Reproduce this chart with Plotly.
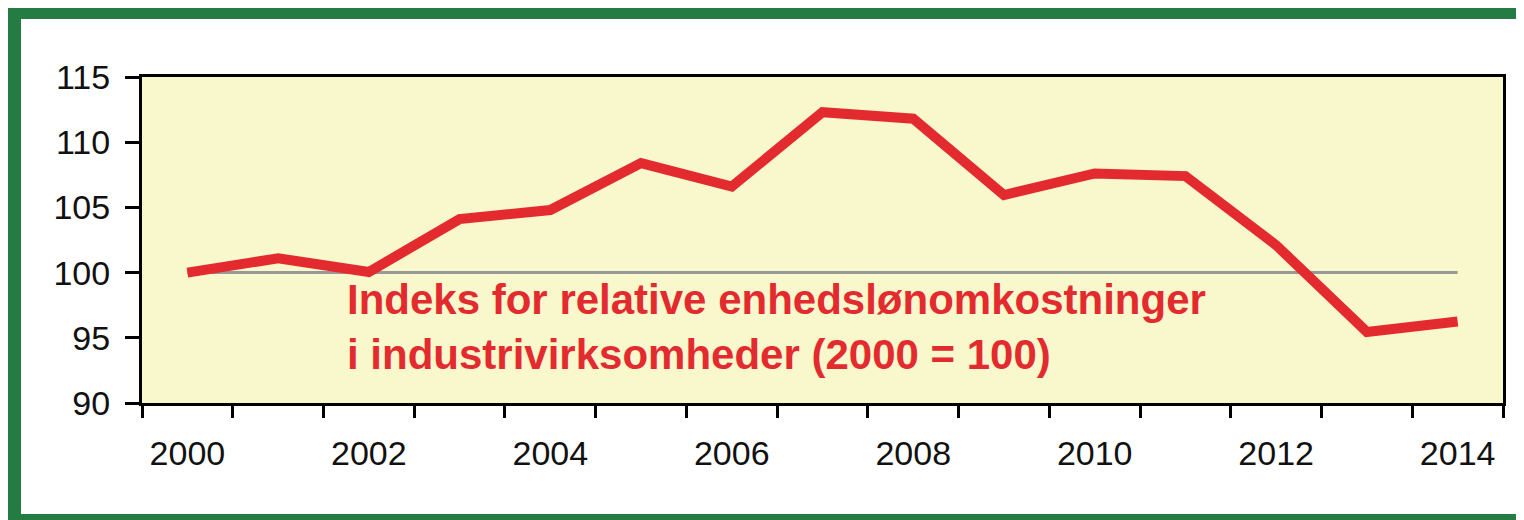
import plotly.graph_objects as go

years = list(range(2000, 2015))
index_values = [100.0, 101.1, 100.05, 104.1, 104.8, 108.4, 106.6, 112.3, 111.8,
                105.95, 107.6, 107.4, 102.1, 95.45, 96.25]
baseline = [100.0] * 15
x_labels = [2000, 2002, 2004, 2006, 2008, 2010, 2012, 2014]
y_ticks = [90, 95, 100, 105, 110, 115]
label_lines = ["Indeks for relative enhedslønomkostninger",
               "i industrivirksomheder (2000 = 100)"]

FONT = "Arial, Liberation Sans, sans-serif"
RED = "#E32B2F"
GREEN = "rgb(36,124,66)"

# page has an 8px body margin; work in figure coordinates (page - 8)
OFF = 8
W, H = 1524 - OFF, 520 - OFF
L, R, T, B = 142 - OFF, 1503 - OFF, 77 - OFF, 403 - OFF
pw, ph = R - L, B - T

def px(x):
    return (x - OFF - L) / pw

def py(y):
    return (B - (y - OFF)) / ph

fig = go.Figure()
fig.add_trace(go.Scatter(x=years, y=baseline, mode="lines",
                         line=dict(color="#999999", width=3), hoverinfo="skip",
                         showlegend=False))
fig.add_trace(go.Scatter(x=years, y=index_values, mode="lines",
                         line=dict(color=RED, width=10), showlegend=False))
# invisible trace carrying the secondary x axis (category boundary ticks)
fig.add_trace(go.Scatter(x=[years[0]], y=[index_values[0]], xaxis="x2",
                         mode="markers", marker=dict(opacity=0), showlegend=False,
                         hoverinfo="skip"))

fig.update_layout(
    width=W, height=H,
    margin=dict(l=L, r=W - R, t=T, b=H - B),
    paper_bgcolor="white",
    plot_bgcolor="#F8F8CC",
    font=dict(family=FONT, color="#111111"),
    xaxis=dict(range=[1999.5, 2014.5], tickmode="array", tickvals=x_labels,
               ticktext=[str(v) for v in x_labels], ticks="", showgrid=False,
               zeroline=False, showline=True, linecolor="black", linewidth=3,
               mirror=True, tickfont=dict(size=34, color="#111111"),
               ticklabelstandoff=18),
    xaxis2=dict(range=[1999.5, 2014.5], overlaying="x", anchor="y", side="bottom",
                tickmode="array", tickvals=[y - 0.5 for y in years] + [2014.5],
                ticks="outside", ticklen=14, tickwidth=3, tickcolor="black",
                showticklabels=False, showgrid=False, zeroline=False, showline=False),
    yaxis=dict(range=[90, 115], tickmode="array", tickvals=y_ticks,
               ticks="outside", ticklen=14, tickwidth=3, tickcolor="black",
               showgrid=False, zeroline=False, showline=True, linecolor="black",
               linewidth=3, mirror=True, tickfont=dict(size=34, color="#111111"),
               ticklabelstandoff=8),
    annotations=[dict(
        x=px(345), y=py(327), xref="paper", yref="paper",
        xanchor="left", yanchor="middle", align="left", showarrow=False,
        text="<br>".join("<b>" + s + "</b>" for s in label_lines),
        font=dict(family=FONT, size=42, color=RED),
    )],
    shapes=[
        dict(type="rect", xref="paper", yref="paper", x0=px(8), x1=px(21),
             y0=py(540), y1=py(7), fillcolor=GREEN, line=dict(width=0), layer="above"),
        dict(type="rect", xref="paper", yref="paper", x0=px(8), x1=px(1540),
             y0=py(19), y1=py(7), fillcolor=GREEN, line=dict(width=0), layer="above"),
        dict(type="rect", xref="paper", yref="paper", x0=px(8), x1=px(1540),
             y0=py(540), y1=py(514), fillcolor=GREEN, line=dict(width=0), layer="above"),
    ],
)

fig.write_html("out.html")
